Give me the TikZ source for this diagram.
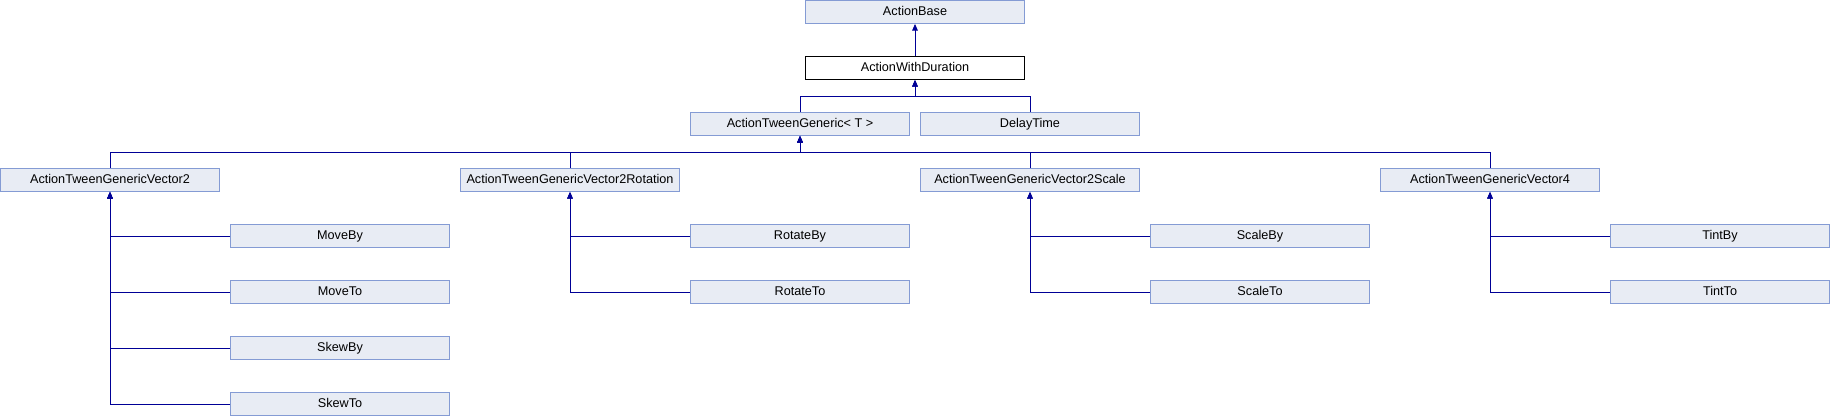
\documentclass[tikz,border=0pt]{standalone}
\usepackage{fontspec}
\setmainfont{Liberation Sans}
\usetikzlibrary{arrows.meta}
\definecolor{boxfill}{RGB}{232,236,244}
\definecolor{boxline}{RGB}{132,155,212}
\definecolor{edgecol}{RGB}{0,0,150}
\tikzset{
  cls/.style={draw=boxline, fill=boxfill, line width=0.7pt, minimum width=164pt, minimum height=17.2pt, inner sep=0pt, text height=7pt, text depth=1.8pt, font=\fontsize{9.5pt}{11pt}\selectfont},
  cur/.style={cls, draw=black, fill=white},
  edge/.style={draw=edgecol, line width=0.65pt, -{Triangle[length=5pt,width=4.2pt]}},
}
\begin{document}
\begin{tikzpicture}[x=0.75pt,y=-0.75pt]
\useasboundingbox (0,0) rectangle (1830,416);
% row 0-2
\node[cls] (base) at (915,12) {ActionBase};
\node[cur] (dur) at (915,68) {ActionWithDuration};
\node[cls] (gen) at (800,124) {ActionTweenGeneric< T >};
\node[cls] (delay) at (1030,124) {DelayTime};
% row 3
\node[cls] (v2) at (110,180) {ActionTweenGenericVector2};
\node[cls] (v2r) at (570,180) {ActionTweenGenericVector2Rotation};
\node[cls] (v2s) at (1030,180) {ActionTweenGenericVector2Scale};
\node[cls] (v4) at (1490,180) {ActionTweenGenericVector4};
% leaves
\node[cls] (moveby) at (340,236) {MoveBy};
\node[cls] (moveto) at (340,292) {MoveTo};
\node[cls] (skewby) at (340,348) {SkewBy};
\node[cls] (skewto) at (340,404) {SkewTo};
\node[cls] (rotby) at (800,236) {RotateBy};
\node[cls] (rotto) at (800,292) {RotateTo};
\node[cls] (scaleby) at (1260,236) {ScaleBy};
\node[cls] (scaleto) at (1260,292) {ScaleTo};
\node[cls] (tintby) at (1720,236) {TintBy};
\node[cls] (tintto) at (1720,292) {TintTo};
% edges
\draw[edge] (dur.north) -- (base.south);
\draw[edge] (gen.north) -- ++(0,-16) -| (dur.south);
\draw[edge] (delay.north) -- ++(0,-16) -| (dur.south);
\draw[edge] (v2.north) -- ++(0,-16) -| (gen.south);
\draw[edge] (v2r.north) -- ++(0,-16) -| (gen.south);
\draw[edge] (v2s.north) -- ++(0,-16) -| (gen.south);
\draw[edge] (v4.north) -- ++(0,-16) -| (gen.south);
\draw[edge] (moveby.west) -| (v2.south);
\draw[edge] (moveto.west) -| (v2.south);
\draw[edge] (skewby.west) -| (v2.south);
\draw[edge] (skewto.west) -| (v2.south);
\draw[edge] (rotby.west) -| (v2r.south);
\draw[edge] (rotto.west) -| (v2r.south);
\draw[edge] (scaleby.west) -| (v2s.south);
\draw[edge] (scaleto.west) -| (v2s.south);
\draw[edge] (tintby.west) -| (v4.south);
\draw[edge] (tintto.west) -| (v4.south);
\end{tikzpicture}
\end{document}
